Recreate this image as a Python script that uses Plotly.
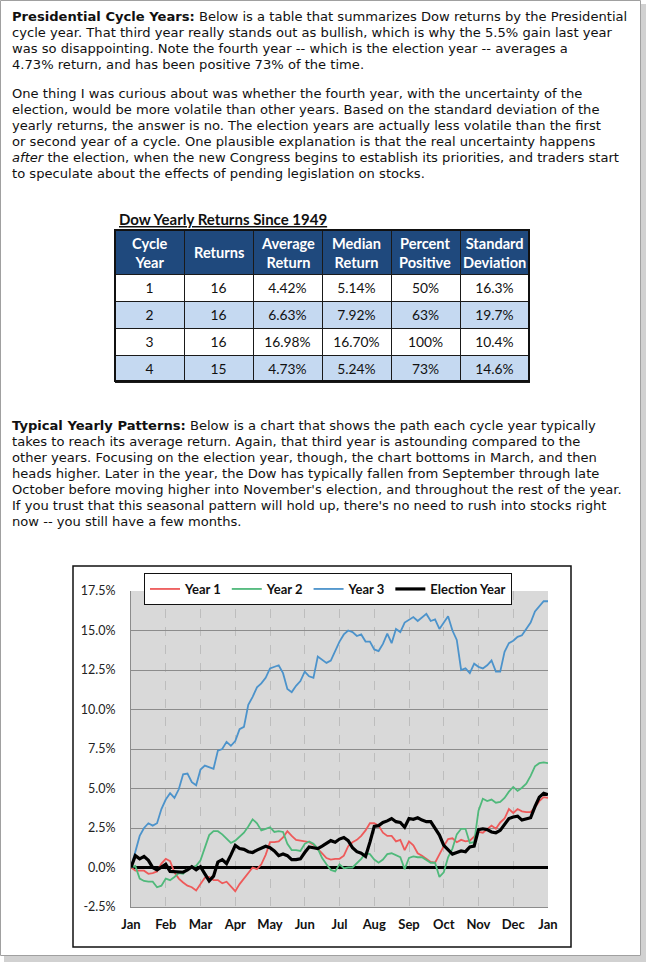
import numpy as np
import plotly.graph_objects as go

W, H = 646, 962

# --- text blocks ---
para1 = [
    "<b>Presidential Cycle Years:</b> Below is a table that summarizes Dow returns by the Presidential",
    "cycle year. That third year really stands out as bullish, which is why the 5.5% gain last year",
    "was so disappointing. Note the fourth year -- which is the election year -- averages a",
    "4.73% return, and has been positive 73% of the time.",
]
para2 = [
    "One thing I was curious about was whether the fourth year, with the uncertainty of the",
    "election, would be more volatile than other years. Based on the standard deviation of the",
    "yearly returns, the answer is no. The election years are actually less volatile than the first",
    "or second year of a cycle. One plausible explanation is that the real uncertainty happens",
    "<i>after</i> the election, when the new Congress begins to establish its priorities, and traders start",
    "to speculate about the effects of pending legislation on stocks.",
]
para3 = [
    "<b>Typical Yearly Patterns:</b> Below is a chart that shows the path each cycle year typically",
    "takes to reach its average return. Again, that third year is astounding compared to the",
    "other years. Focusing on the election year, though, the chart bottoms in March, and then",
    "heads higher. Later in the year, the Dow has typically fallen from September through late",
    "October before moving higher into November's election, and throughout the rest of the year.",
    "If you trust that this seasonal pattern will hold up, there's no need to rush into stocks right",
    "now -- you still have a few months.",
]

# --- table data ---
table_title = "Dow Yearly Returns Since 1949"
headers = ["Cycle<br>Year", "Returns", "Average<br>Return", "Median<br>Return",
           "Percent<br>Positive", "Standard<br>Deviation"]
cycle_year = ["1", "2", "3", "4"]
returns = ["16", "16", "16", "15"]
avg_return = ["4.42%", "6.63%", "16.98%", "4.73%"]
median_return = ["5.14%", "7.92%", "16.70%", "5.24%"]
pct_positive = ["50%", "63%", "100%", "73%"]
std_dev = ["16.3%", "19.7%", "10.4%", "14.6%"]

# --- chart data (8 samples per month, Jan .. next Jan) ---
month_labels = ["Jan", "Feb", "Mar", "Apr", "May", "Jun", "Jul",
                "Aug", "Sep", "Oct", "Nov", "Dec", "Jan"]
year1 = [0.0, -0.2, -0.2, -0.2, -0.4, -0.35, -0.25, 0.25,
         0.55, 0.4, -0.3, -0.7, -0.95, -1.15, -1.25, -1.45,
         -1.05, -0.65, -0.6, -0.8, -0.8, -1.0, -0.9, -1.2,
         -1.5, -1.05, -0.7, -0.35, 0.0, -0.1, 0.2, 0.8,
         1.6, 1.6, 1.65, 1.9, 2.3, 2.0, 1.75, 1.7,
         1.65, 1.6, 1.45, 1.2, 0.9, 0.6, 0.5, 0.55,
         0.55, 0.75, 1.35, 1.6, 1.75, 2.0, 2.35, 2.8,
         2.8, 2.65, 2.2, 2.0, 2.0, 1.65, 1.75, 1.1,
         1.65, 1.4, 0.9, 0.75, 0.55, 0.35, 0.3, 0.85,
         1.35, 1.8, 1.85, 1.6, 1.75, 1.65, 1.7, 1.95,
         2.25, 2.2, 2.45, 2.65, 2.45, 2.85, 3.1, 3.7,
         3.45, 3.7, 3.55, 3.5, 3.5, 3.8, 4.2, 4.45,
         4.4]
year2 = [0.0, 0.1, -0.7, -0.85, -0.9, -0.9, -1.25, -1.15,
         -0.7, -0.8, -0.6, -0.35, -0.4, -0.1, 0.0, 0.1,
         0.45, 1.2, 2.05, 2.3, 2.3, 2.1, 1.8, 1.55,
         1.7, 1.95, 2.2, 2.6, 3.05, 2.8, 2.35, 2.45,
         2.55, 2.25, 2.3, 2.25, 1.5, 1.1, 1.1, 1.05,
         1.5, 1.65, 1.5, 1.2, 0.6, 0.2, -0.15, -0.25,
         0.2, -0.05, 0.0, 0.0, 0.25, 0.55, 0.9, 0.85,
         0.5, 0.3, 0.5, 0.85, 0.9, 0.75, 0.65, -0.1,
         0.6, 0.7, 0.65, 0.65, 0.5, 0.3, 0.3, -0.6,
         -0.3, 0.65, 1.2, 2.1, 2.45, 2.45, 1.55, 1.6,
         3.6, 4.35, 4.2, 4.3, 4.1, 4.15, 4.4, 4.8,
         5.1, 4.85, 5.05, 5.3, 5.8, 6.4, 6.6, 6.65,
         6.6]
year3 = [0.0, 1.0, 2.0, 2.5, 2.8, 2.65, 2.8, 3.7,
         4.3, 4.7, 4.4, 4.95, 5.9, 5.95, 5.4, 5.2,
         6.2, 6.45, 6.35, 6.25, 7.4, 7.5, 7.95, 7.7,
         8.0, 8.75, 8.9, 10.3, 10.8, 11.4, 11.65, 12.0,
         12.6, 12.7, 12.8, 12.3, 11.3, 11.1, 11.5, 11.8,
         12.4, 12.1, 12.0, 13.35, 13.15, 12.95, 13.1, 13.7,
         14.3, 14.75, 15.0, 14.9, 14.65, 14.75, 14.3, 14.3,
         13.8, 13.7, 14.15, 14.8, 14.2, 15.1, 14.9, 15.5,
         15.65, 15.85, 15.6, 15.8, 16.05, 15.6, 15.7, 15.1,
         15.5, 15.9, 15.0, 14.4, 12.5, 12.6, 12.3, 12.9,
         12.7, 12.6, 12.8, 13.1, 12.4, 12.4, 13.65, 14.2,
         14.35, 14.6, 14.7, 15.1, 15.5, 16.2, 16.5, 16.85,
         16.85]
election = [0.0, 0.75, 0.55, 0.7, 0.45, 0.0, -0.15, 0.05,
            0.2, -0.25, -0.25, -0.25, -0.3, -0.15, 0.05, -0.15,
            0.05, -0.4, -0.85, -0.55, 0.35, 0.5, 0.25, 0.8,
            1.4, 1.2, 1.15, 1.0, 0.95, 1.1, 1.25, 1.35,
            1.25, 1.05, 0.75, 0.85, 0.75, 0.5, 0.5, 0.55,
            0.95, 1.3, 1.25, 1.2, 1.35, 1.5, 1.7, 1.6,
            1.8, 1.9, 1.7, 1.25, 1.0, 0.9, 0.7, 1.6,
            2.6, 2.65, 2.85, 2.95, 3.1, 2.9, 2.85, 2.55,
            3.1, 3.05, 3.15, 3.0, 2.9, 2.9, 2.5, 2.05,
            1.4, 1.1, 0.85, 0.95, 1.05, 1.0, 1.3, 1.35,
            2.4, 2.45, 2.4, 2.25, 2.2, 2.35, 2.7, 3.1,
            3.2, 3.25, 3.0, 3.05, 3.15, 3.85, 4.45, 4.7,
            4.6]
y_ticks = [-2.5, 0.0, 2.5, 5.0, 7.5, 10.0, 12.5, 15.0, 17.5]

months = np.arange(len(year1)) / 8.0


def px(x):
    return x / W


def py(y):
    return 1 - y / H


fig = go.Figure()

series = [("Year 1", year1, "#EE5A5A", 1.8),
          ("Year 2", year2, "#50B97B", 1.8),
          ("Year 3", year3, "#4C93CB", 1.8),
          ("Election Year", election, "#000000", 3.2)]
for name, vals, color, lw in series:
    fig.add_trace(go.Scatter(x=months, y=vals, mode="lines", name=name,
                             line=dict(color=color, width=lw)))

# table: header text is laid over as annotations so it can be larger
tbl_x0, tbl_x1, tbl_top = 115, 529, 230
row_fill = ["#FFFFFF", "#C5D9F1", "#FFFFFF", "#C5D9F1"]
fig.add_trace(go.Table(
    domain=dict(x=[px(tbl_x0), px(tbl_x1)], y=[py(400), py(tbl_top)]),
    columnwidth=[1] * 6,
    header=dict(values=[""] * len(headers),
                fill_color="#1F497D", align="center", height=44.5,
                line=dict(color="#1a1a1a", width=1),
                font=dict(family="Lato", size=12, color="white")),
    cells=dict(values=[cycle_year, returns, avg_return, median_return,
                       pct_positive, std_dev],
               fill_color=[row_fill] * 6, align="center", height=27,
               line=dict(color="#1a1a1a", width=1),
               font=dict(family="Lato", size=13.8, color="#111111")),
))

body_font = dict(family="DejaVu Sans", size=13.1, color="#111111")
ann = []
for block, y0 in [(para1, 16), (para2, 93.7), (para3, 425.7)]:
    for i, line in enumerate(block):
        ann.append(dict(x=px(10), y=py(y0 + 16 * i), xref="paper", yref="paper",
                        xanchor="left", yanchor="middle", showarrow=False,
                        text=line, font=body_font))
ann.append(dict(x=px(117), y=py(219), xref="paper", yref="paper",
                xanchor="left", yanchor="middle", showarrow=False,
                text="<b><u>%s</u></b>" % table_title,
                font=dict(family="Lato", size=15, color="#111111")))
col_w = (tbl_x1 - tbl_x0) / len(headers)
for j, h in enumerate(headers):
    ann.append(dict(x=px(tbl_x0 + col_w * (j + 0.5)), y=py(tbl_top + 22.5),
                    xref="paper", yref="paper", xanchor="center", yanchor="middle",
                    showarrow=False, text="<b>%s</b>" % h,
                    font=dict(family="Lato", size=14.6, color="white")))

shapes = [
    # table outer border
    dict(type="rect", xref="paper", yref="paper", x0=px(tbl_x0), x1=px(tbl_x1),
         y0=py(381), y1=py(tbl_top), line=dict(color="#111111", width=2)),
    # chart frame
    dict(type="rect", xref="paper", yref="paper", x0=px(73), x1=px(571),
         y0=py(947), y1=py(566), line=dict(color="#111111", width=1.5)),
    # page border and shadow
    dict(type="rect", xref="paper", yref="paper", x0=px(641), x1=px(646),
         y0=py(962), y1=py(4), fillcolor="rgba(0,0,0,0.18)", line_width=0),
    dict(type="rect", xref="paper", yref="paper", x0=px(4), x1=px(641),
         y0=py(962), y1=py(956), fillcolor="rgba(0,0,0,0.18)", line_width=0),
    dict(type="rect", xref="paper", yref="paper", x0=px(0.5), x1=px(640.5),
         y0=py(955.5), y1=py(0.5), line=dict(color="#A0A0A0", width=1)),
]

fig.update_layout(
    width=W, height=H, margin=dict(l=0, r=0, t=0, b=0, autoexpand=False),
    paper_bgcolor="white", plot_bgcolor="#D9D9D9",
    annotations=ann, shapes=shapes,
    legend=dict(orientation="h", x=px(144), y=py(573), xanchor="left",
                yanchor="top", bgcolor="white", bordercolor="#111111",
                borderwidth=1, font=dict(family="Lato", size=13, color="#111111",
                                         weight="bold")),
    xaxis=dict(domain=[px(131), px(548)], range=[0, 12], automargin=False,
               tickvals=list(range(13)), ticktext=month_labels,
               showgrid=True, gridcolor="#BDBDBD", griddash="dash", gridwidth=1,
               showline=True, linecolor="#8C8C8C", zeroline=False,
               ticks="", ticklabelstandoff=5,
               tickfont=dict(family="Lato", size=13, color="#111111", weight="bold")),
    yaxis=dict(domain=[py(907), py(591)], range=[-2.5, 17.5], automargin=False,
               tickvals=y_ticks, ticktext=["%.1f%%" % v for v in y_ticks],
               showgrid=True, gridcolor="#8C8C8C", gridwidth=1,
               showline=True, linecolor="#8C8C8C",
               zeroline=True, zerolinecolor="#000000", zerolinewidth=2.5,
               ticks="", ticklabelstandoff=12,
               tickfont=dict(family="Lato", size=12.5, color="#222222")),
)

# page sits flush in the window
fig.write_html("out.html", config={"displayModeBar": False},
               post_script="document.body.style.margin='0';"
                           "document.body.style.overflow='hidden';")
